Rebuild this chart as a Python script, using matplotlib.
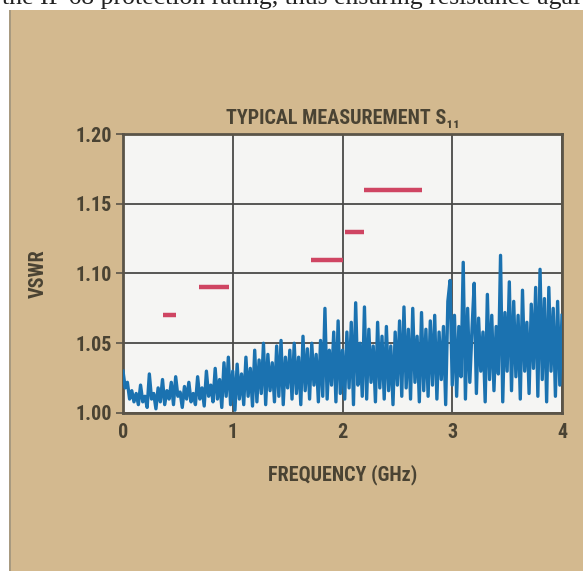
import matplotlib
matplotlib.use("Agg")
import matplotlib.pyplot as plt
from matplotlib.patches import Rectangle
from matplotlib import font_manager

# measured VSWR trace, 0 to 4 GHz in 0.02 GHz steps
freq_step = 0.02
vswr = [
    1.030, 1.018, 1.022, 1.010, 1.016, 1.008, 1.014, 1.006, 1.020, 1.008,
    1.012, 1.004, 1.028, 1.010, 1.014, 1.003, 1.018, 1.008, 1.024, 1.006,
    1.016, 1.010, 1.022, 1.006, 1.026, 1.012, 1.015, 1.004, 1.019, 1.010,
    1.022, 1.008, 1.014, 1.006, 1.026, 1.010, 1.018, 1.005, 1.030, 1.012,
    1.020, 1.008, 1.032, 1.010, 1.024, 1.004, 1.036, 1.012, 1.040, 1.006,
    1.030, 1.002, 1.035, 1.010, 1.028, 1.006, 1.040, 1.012, 1.032, 1.005,
    1.045, 1.008, 1.038, 1.014, 1.050, 1.006, 1.042, 1.016, 1.036, 1.008,
    1.048, 1.012, 1.052, 1.006, 1.040, 1.018, 1.045, 1.010, 1.050, 1.014,
    1.040, 1.006, 1.055, 1.016, 1.046, 1.010, 1.050, 1.020, 1.042, 1.008,
    1.052, 1.012, 1.075, 1.010, 1.045, 1.020, 1.058, 1.008, 1.066, 1.014,
    1.045, 1.010, 1.058, 1.018, 1.065, 1.006, 1.079, 1.020, 1.050, 1.012,
    1.076, 1.010, 1.060, 1.022, 1.048, 1.008, 1.065, 1.018, 1.055, 1.010,
    1.062, 1.016, 1.048, 1.006, 1.058, 1.020, 1.066, 1.012, 1.076, 1.018,
    1.060, 1.010, 1.075, 1.022, 1.055, 1.008, 1.072, 1.016, 1.060, 1.012,
    1.066, 1.020, 1.070, 1.010, 1.058, 1.024, 1.062, 1.006, 1.080, 1.095,
    1.020, 1.070, 1.012, 1.062, 1.026, 1.108, 1.010, 1.075, 1.022, 1.060,
    1.093, 1.014, 1.068, 1.030, 1.058, 1.008, 1.085, 1.024, 1.070, 1.016,
    1.062, 1.028, 1.113, 1.008, 1.072, 1.030, 1.094, 1.016, 1.080, 1.026,
    1.070, 1.010, 1.088, 1.030, 1.065, 1.014, 1.078, 1.032, 1.090, 1.012,
    1.103, 1.024, 1.082, 1.008, 1.090, 1.030, 1.075, 1.012, 1.080, 1.020,
    1.070,
]
freq = [i * freq_step for i in range(len(vswr))]

# specification limit segments (GHz start, GHz end, VSWR)
spec_start = [0.36, 0.69, 1.71, 2.02, 2.20]
spec_end = [0.48, 0.97, 2.00, 2.20, 2.72]
spec_vswr = [1.07, 1.09, 1.11, 1.13, 1.16]

x_ticks = [0, 1, 2, 3, 4]
y_ticks = [1.00, 1.05, 1.10, 1.15, 1.20]

tan = "#d3b98f"
ink = "#4a4333"
blue = "#1b72b0"
red = "#cf4562"

# pick a narrow bold face if one is installed
installed = {f.name for f in font_manager.fontManager.ttflist}
condensed = [f for f in ["Liberation Sans Narrow", "Roboto Condensed", "DejaVu Sans Condensed",
                         "Roboto", "DejaVu Sans"] if f in installed][:1] + ["DejaVu Sans"]

fig = plt.figure(figsize=(5.83, 5.71), dpi=100)
fig.patch.set_facecolor("white")

# tan panel with thin grey left edge (behind the axes)
fig.patches.append(Rectangle((10 / 583, 0), 1, 1 - 10 / 571, transform=fig.transFigure,
                             facecolor=tan, edgecolor="none", zorder=-5))
fig.patches.append(Rectangle((9 / 583, 0), 2 / 583, 1 - 10 / 571, transform=fig.transFigure,
                             facecolor="#a89a80", edgecolor="none", zorder=-4))

# cut-off body text above the panel
fig.text(0.5, 1 - 4 / 571, "the IP 68 protection rating, thus ensuring resistance agai",
         ha="center", va="baseline", fontsize=18.5, family="Liberation Serif", color="#222222")

ax = fig.add_axes([123 / 583, 1 - 413 / 571, 439 / 583, 279 / 571])
ax.set_facecolor("#f5f5f3")

ax.plot(freq, vswr, color=blue, lw=2.4, zorder=3)
for x0, x1, v in zip(spec_start, spec_end, spec_vswr):
    ax.plot([x0, x1], [v, v], color=red, lw=3.2, solid_capstyle="butt", zorder=4)

ax.set_xlim(0, 4)
ax.set_ylim(1.0, 1.2)
ax.set_xticks(x_ticks)
ax.set_yticks(y_ticks)
ax.set_xticklabels([str(t) for t in x_ticks])
ax.set_yticklabels(["%.2f" % t for t in y_ticks])
ax.grid(True, color="#4a4a48", lw=1.3, zorder=1)
ax.tick_params(axis="both", colors="#5a5448", labelcolor=ink, length=5, width=1.2,
               labelsize=14.5)
ax.tick_params(axis="x", length=0, pad=7)
ax.tick_params(axis="y", pad=3)
for lab in ax.get_xticklabels() + ax.get_yticklabels():
    lab.set_family(condensed)
    lab.set_fontweight("heavy")
for sp in ax.spines.values():
    sp.set_color("#5a5448")
    sp.set_linewidth(2)

ax.set_title("TYPICAL MEASUREMENT S\u2081\u2081", family=condensed, fontweight="heavy",
             fontsize=14.5, color=ink, pad=7)
ax.set_xlabel("FREQUENCY (GHz)", family=condensed, fontweight="heavy", fontsize=14.5,
              color=ink, labelpad=16)
ax.set_ylabel("VSWR", family=condensed, fontweight="heavy", fontsize=14.5,
              color=ink, labelpad=20)

fig.savefig("out.png", dpi=100, facecolor=fig.get_facecolor())
